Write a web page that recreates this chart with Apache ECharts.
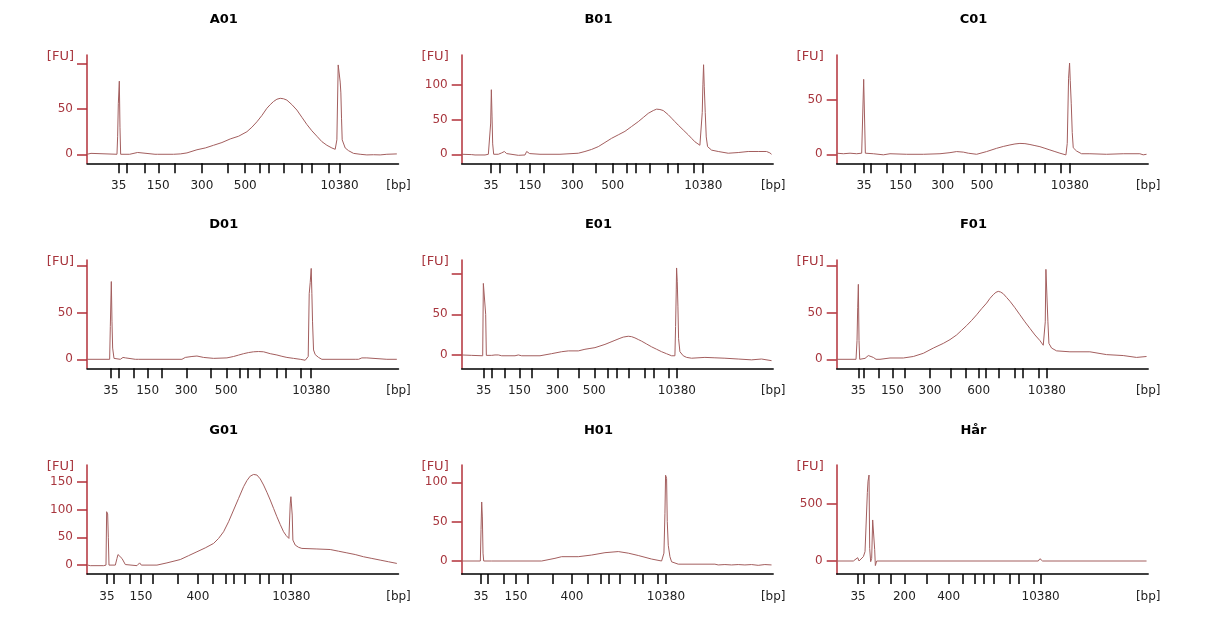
<!DOCTYPE html>
<html>
<head>
<meta charset="utf-8">
<script src="https://cdn.jsdelivr.net/npm/echarts@6/dist/echarts.min.js"></script>
<style>
  html, body { margin: 0; padding: 0; background: #fff; }
  #chart { width: 1219px; height: 619px; }
</style>
</head>
<body>
<div id="chart"></div>
<script>
// ladder sizes (bp) that get a tick on every x axis
var ladder = [35, 50, 100, 150, 200, 300, 400, 500, 600, 700, 1000, 2000, 3000, 7000, 10380];

// sample names, left to right, top to bottom
var names = ['A01', 'B01', 'C01', 'D01', 'E01', 'F01', 'G01', 'H01', 'Hår'];

// where each ladder size sits on the migration axis of each run
var a01Ticks = [355, 378, 432, 474, 522, 605, 681, 735, 779, 806, 851, 906, 934, 986, 1018];
var b01Ticks = [258, 283, 335, 375, 417, 502, 573, 623, 665, 693, 733, 788, 817, 868, 895];
var c01Ticks = [222, 243, 290, 332, 374, 458, 522, 576, 618, 645, 683, 735, 763, 813, 840];
var d01Ticks = [332, 355, 400, 442, 485, 558, 630, 678, 718, 742, 780, 830, 858, 903, 933];
var e01Ticks = [236, 260, 300, 343, 381, 457, 520, 568, 609, 634, 670, 719, 746, 790, 816];
var f01Ticks = [205, 222, 267, 307, 345, 420, 483, 527, 566, 588, 627, 675, 697, 745, 771];
var g01Ticks = [320, 340, 387, 422, 457, 532, 593, 638, 677, 700, 734, 779, 805, 847, 873];
var h01Ticks = [228, 248, 297, 333, 367, 442, 501, 548, 588, 611, 645, 690, 713, 757, 783];
var harTicks = [204, 222, 267, 303, 343, 410, 476, 517, 555, 580, 612, 660, 687, 731, 752];

// which ladder sizes carry a text label
var labelsAE = [35, 150, 300, 500, 10380];
var labelsF = [35, 150, 300, 600, 10380];
var labelsGH = [35, 150, 400, 10380];
var labelsHar = [35, 200, 400, 10380];

// migration range shown on each x axis
var xRanges = [[260, 1195], [170, 1105], [140, 1075], [260, 1195], [170, 1105], [140, 1075], [260, 1195], [170, 1105], [140, 1075]];

// FU range, ticks and labelled ticks of each y axis
var yRanges = [[-10, 110], [-13, 143], [-8.3, 91.4], [-9.6, 106], [-16.4, 116.8], [-9.6, 106], [-16, 180], [-16.5, 122], [-114, 842]];
var yTicks = [[0, 50, 100], [0, 50, 100], [0, 50], [0, 50, 100], [0, 50, 100], [0, 50, 100], [0, 50, 100, 150], [0, 50, 100], [0, 500]];
var yLabels = [[0, 50], [0, 50, 100], [0, 50], [0, 50], [0, 50], [0, 50], [0, 50, 100, 150], [0, 50, 100], [0, 500]];

// traces: [migration, FU]
var a01Trace = [[260,0],[265,1],[272,1],[278,0],[350,0],[352,20],[354,56],[357,81],[359,30],[361,0],[388,0],[392,2],[412,2],[416,0],[464,0],[467,1.5],[471,0],[520,0],[525,-0.5],[540,0.4],[560,1.5],[590,5],[615,7],[640,10],[665,13],[690,17],[715,20],[740,25],[755,30],[770,36],[785,43],[800,51],[810,55],[820,58.5],[830,61],[840,62],[850,61.5],[860,60],[875,55],[890,49],[905,41],[920,33],[935,26],[950,20],[965,14],[980,10],[995,7],[1005,5.5],[1010,16],[1014,99],[1018,99],[1020,80],[1022,68],[1024,40],[1026,16],[1035,7],[1045,4],[1060,1],[1080,0],[1100,-0.7],[1120,-0.5],[1140,-0.7],[1160,0],[1190,0.4]];
var b01Trace = [[170,0],[200,-0.5],[210,-1],[240,-1],[250,0],[255,2],[257,45],[259,93],[261,55],[263,15],[266,0],[280,0],[290,2],[298,4],[305,1],[310,-1],[340,-1.5],[360,-1],[365,4],[370,5],[374,1],[380,0],[405,0],[410,1.5],[414,0],[465,0],[470,1.5],[520,1.5],[540,4],[560,7],[580,11],[600,17],[620,23],[640,28],[660,33],[680,40],[700,47],[715,53],[730,59],[745,63],[755,65],[765,64.5],[775,63],[790,57],[800,52],[810,47],[820,42],[835,35],[850,28],[860,23],[870,18],[885,13],[889,15],[892,60],[894,100],[896,129],[898,98],[901,60],[904,25],[908,11],[920,6],[940,4],[970,1.5],[1000,2.5],[1030,4],[1060,4],[1085,4],[1095,2],[1100,0]];
var c01Trace = [[140,1],[160,0.5],[180,1],[200,0.5],[215,1],[219,1],[221,69],[224,69],[226,1],[250,0.5],[280,-0.5],[300,0.5],[350,0],[400,0],[450,0.5],[480,1.5],[500,2.5],[520,2],[535,1],[560,0],[590,2.5],[620,5.5],[640,7.2],[660,8.6],[675,9.5],[690,10],[705,9.8],[720,9],[735,8],[750,7],[765,5.5],[780,4],[795,2.5],[810,1],[828,-0.6],[832,10],[836,70],[839,84],[841,68],[844,47],[847,20],[850,6],[860,3],[875,0.5],[900,0.5],[950,0],[1000,0.5],[1050,0.5],[1060,-0.5],[1070,0]];
var d01Trace = [[260,0],[328,0],[330,35],[333,83],[335,40],[337,12],[341,1],[360,0],[368,2],[376,1.5],[380,0],[405,0],[410,1.5],[414,0],[545,0],[555,2],[575,3],[590,3.5],[610,2],[640,1],[680,1.5],[700,3],[715,4.5],[730,6],[745,7.2],[760,8],[775,8.3],[790,8],[810,6],[830,4.6],[845,3.2],[860,2],[880,1],[900,0],[915,-1],[924,3],[927,70],[930,82],[933,97],[935,70],[937,40],[940,10],[945,5],[955,2],[965,0],[1065,0],[1070,1.5],[1075,0],[1085,1.5],[1090,0],[1100,1.5],[1105,0],[1160,0],[1163,2],[1166,0],[1190,0]];
var e01Trace = [[170,0],[200,-0.5],[233,-1],[235,88],[240,86],[242,50],[244,-0.5],[260,-0.5],[270,0],[275,2],[280,0],[290,-1],[330,-1],[340,0],[350,-1],[405,-1],[410,0],[440,1.6],[470,4],[490,5],[520,5],[540,7],[555,8],[570,9],[585,11],[600,13],[615,15.5],[630,18],[645,20.5],[655,22],[670,23],[680,22.5],[690,21],[700,19],[710,17],[725,13.5],[740,10],[755,7],[770,4],[785,1.5],[800,-1],[810,-1],[812,35],[814,80],[815,107],[817,90],[819,60],[821,20],[825,4],[835,-1],[845,-3],[860,-4],[900,-3],[930,-3.5],[960,-4],[1000,-5],[1040,-6],[1070,-5],[1100,-7]];
var f01Trace = [[140,0],[198,0],[201,20],[203,55],[205,80],[207,20],[209,0],[215,0.5],[225,1],[235,4],[240,4.6],[250,2],[258,0],[263,-1.4],[270,0],[300,1.4],[340,1.4],[370,3],[400,6.4],[430,12],[460,17],[480,21],[500,26],[515,31],[530,36],[545,41.5],[560,47.5],[575,54],[590,60],[600,65],[610,69],[618,71.5],[625,72.5],[632,71.8],[640,70],[650,66],[660,62],[675,55],[690,47.5],[705,40],[720,33],[735,26],[750,20],[760,15],[764,14],[766,40],[768,96],[772,96],[774,40],[777,17],[785,12],[800,9],[840,8],[900,8],[950,5],[1000,4],[1040,2],[1070,3]];
var g01Trace = [[262,0],[270,-1],[310,-1],[317,0],[319,96],[322,92],[324,50],[326,0],[345,0],[350,12],[353,19],[358,21],[365,12],[375,1],[380,-1],[410,-1],[418,4],[423,0],[470,0],[500,4],[540,10],[565,17],[590,24],[615,31],[640,39],[655,48],[670,60],[685,78],[700,99],[715,120],[730,141],[740,152],[750,160],[760,163],[770,162],[780,155],[790,144],[800,131],[810,117],[820,102],[830,87],[840,73],[850,60],[858,53],[866,48],[869,47],[870,110],[872,123],[875,123],[876,90],[878,45],[885,36],[895,32],[905,30],[950,29],[990,28],[1015,25],[1040,22],[1065,19],[1090,15],[1115,12],[1140,9],[1165,6],[1190,3]];
var h01Trace = [[170,0],[226,0],[228,40],[230,75],[232,56],[234,10],[236,0],[260,0],[265,2],[270,0],[410,0],[415,2],[450,3.4],[470,5.5],[520,5.5],[560,7.6],[600,10.6],[640,12],[670,10],[700,7],[740,2.5],[770,0],[777,10],[780,60],[782,109],[785,105],[787,50],[790,20],[795,5.5],[800,-1],[820,-4],[930,-4],[940,-5],[960,-4.5],[980,-5],[1000,-4.5],[1020,-5],[1040,-4.5],[1060,-5.5],[1080,-4.5],[1100,-5]];
var harTrace = [[140,0],[190,0],[195,17],[203,29],[207,0],[212,15],[220,38],[225,82],[230,97],[232,600],[234,700],[237,754],[239,111],[242,-6],[245,23],[248,360],[252,374],[254,100],[256,-40],[258,-50],[260,0],[745,0],[750,20],[753,23],[758,0],[1070,0]];

var traces = [a01Trace, b01Trace, c01Trace, d01Trace, e01Trace, f01Trace, g01Trace, h01Trace, harTrace];
var ticks = [a01Ticks, b01Ticks, c01Ticks, d01Ticks, e01Ticks, f01Ticks, g01Ticks, h01Ticks, harTicks];
var shown = [labelsAE, labelsAE, labelsAE, labelsAE, labelsAE, labelsF, labelsGH, labelsGH, labelsHar];

// page layout in pixels
var colLeft = [87, 461.7, 836.7];
var colWidth = 311.5;
var rowTop = [55, 260, 465];
var rowHeight = [108.3, 108.3, 109];
var titleY = [20, 225, 431];

var axisRed = '#b3303a';
var textRed = '#a8363e';
var traceColor = '#a35e5e';
var font = 'DejaVu Sans, Verdana, sans-serif';

var grids = [], xAxes = [], yAxes = [], series = [], graphics = [];

names.forEach(function (name, i) {
  var r = Math.floor(i / 3), c = i % 3;
  grids.push({
    left: colLeft[c], top: rowTop[r], width: colWidth, height: rowHeight[r],
    containLabel: false, outerBoundsMode: 'none'
  });

  var labelMap = {};
  var labelPos = shown[i].map(function (bp) {
    var p = ticks[i][ladder.indexOf(bp)];
    labelMap[String(p)] = String(bp);
    return p;
  });
  labelMap[String(xRanges[i][1])] = '[bp]';
  labelPos.push(xRanges[i][1]);

  xAxes.push({
    type: 'value', gridIndex: i,
    min: xRanges[i][0], max: xRanges[i][1],
    axisLine: { show: true, onZero: false, lineStyle: { color: '#000', width: 1.5 } },
    axisTick: { show: true, length: 10, customValues: ticks[i], lineStyle: { color: '#000', width: 1.5 } },
    axisLabel: {
      show: true, customValues: labelPos, margin: 17,
      color: '#222', fontSize: 12, fontFamily: font,
      formatter: function (v) { return labelMap[String(v)] || ''; }
    },
    splitLine: { show: false }
  });

  yAxes.push({
    type: 'value', gridIndex: i,
    min: yRanges[i][0], max: yRanges[i][1],
    name: '[FU]', nameLocation: 'end', nameGap: -2,
    nameTextStyle: { color: textRed, fontSize: 13, fontFamily: font, align: 'right', verticalAlign: 'middle', padding: [0, 13, 0, 0] },
    axisLine: { show: true, lineStyle: { color: axisRed, width: 1.5 } },
    axisTick: { show: true, length: 10, customValues: yTicks[i], lineStyle: { color: axisRed, width: 1.5 } },
    axisLabel: {
      show: true, customValues: yLabels[i], margin: 14,
      color: textRed, fontSize: 12, fontFamily: font
    },
    splitLine: { show: false }
  });

  series.push({
    type: 'line', xAxisIndex: i, yAxisIndex: i,
    data: traces[i], showSymbol: false, symbol: 'none',
    lineStyle: { color: traceColor, width: 1 },
    silent: true
  });

  graphics.push({
    type: 'text',
    x: colLeft[c] + colWidth / 2 - 19, y: titleY[r],
    style: {
      text: name, fill: '#000', fontSize: 13, fontWeight: 'bold',
      fontFamily: font, textAlign: 'center', textVerticalAlign: 'middle'
    }
  });
});

var chart = echarts.init(document.getElementById('chart'), null, { renderer: 'canvas' });
chart.setOption({
  animation: false,
  backgroundColor: '#fff',
  grid: grids,
  xAxis: xAxes,
  yAxis: yAxes,
  series: series,
  graphic: graphics
});
</script>
</body>
</html>
